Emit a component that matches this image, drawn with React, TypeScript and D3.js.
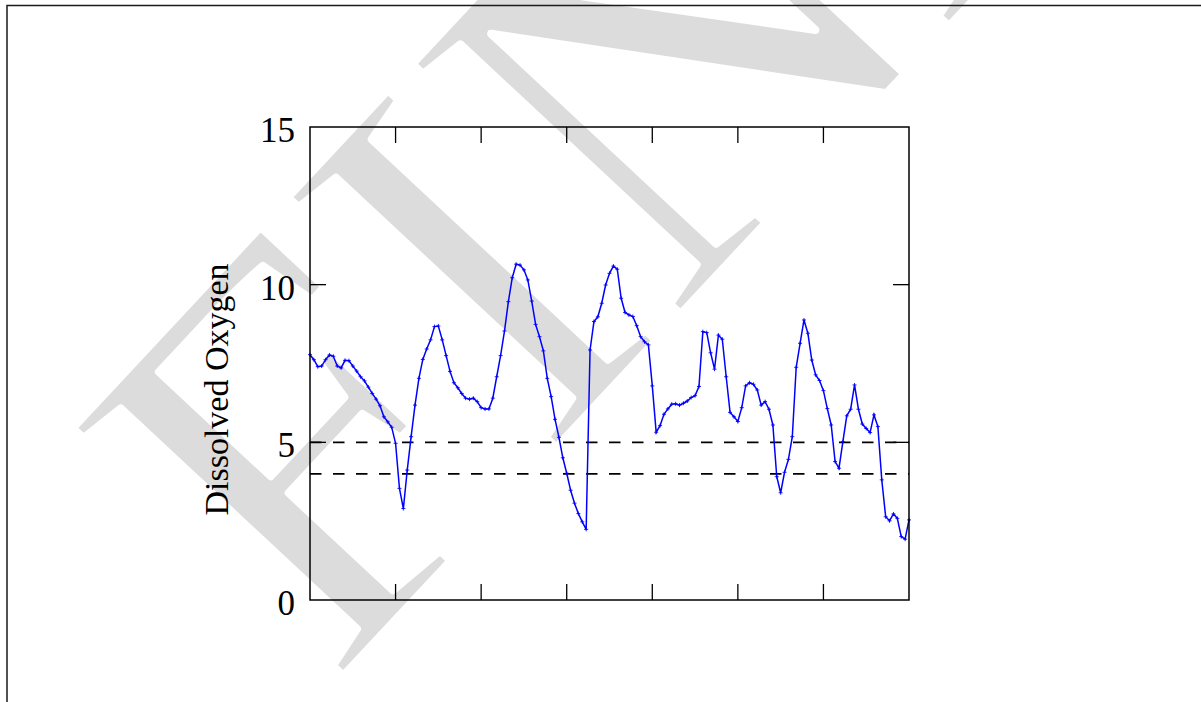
import React from "react";
import * as d3 from "d3";

// Dissolved oxygen samples (22 samples per day, 7 days)
const oxygen: number[] = [
  7.78, 7.62, 7.4, 7.42, 7.62, 7.77, 7.73, 7.42, 7.36, 7.6,
  7.59, 7.42, 7.26, 7.08, 6.95, 6.75, 6.55, 6.37, 6.16, 5.81,
  5.65, 5.48, 4.97, 3.54, 2.9, 4.12, 5.18, 6.18, 7.03, 7.63,
  7.96, 8.25, 8.67, 8.69, 8.25, 7.75, 7.25, 6.89, 6.73, 6.55,
  6.4, 6.37, 6.4, 6.29, 6.1, 6.06, 6.06, 6.4, 7.08, 7.75,
  8.53, 9.46, 10.22, 10.65, 10.62, 10.47, 10.15, 9.48, 8.74, 8.35,
  7.9, 7.03, 6.45, 5.73, 5.16, 4.51, 4.02, 3.48, 3.07, 2.74,
  2.48, 2.24, 7.93, 8.83, 8.98, 9.41, 9.99, 10.36, 10.59, 10.49,
  9.57, 9.12, 9.04, 8.99, 8.7, 8.35, 8.19, 8.09, 6.79, 5.32,
  5.53, 5.89, 6.06, 6.21, 6.22, 6.18, 6.24, 6.31, 6.42, 6.48,
  6.77, 8.51, 8.48, 7.84, 7.32, 8.4, 8.27, 7.08, 5.95, 5.81,
  5.66, 6.1, 6.79, 6.89, 6.84, 6.66, 6.18, 6.29, 6.05, 5.55,
  3.91, 3.4, 4.05, 4.46, 5.18, 7.38, 8.14, 8.88, 8.46, 7.61,
  7.14, 6.96, 6.64, 6.07, 5.55, 4.39, 4.18, 5.02, 5.84, 6.05,
  6.82, 6.05, 5.58, 5.44, 5.31, 5.87, 5.5, 3.81, 2.64, 2.51,
  2.73, 2.59, 2.01, 1.93, 2.54,
];
const samplesPerDay = 22;
const days = 7;
const dayTicks: number[] = [1, 2, 3, 4, 5, 6];
const yTicks: number[] = [0, 5, 10, 15];
const innerYTicks: number[] = [5, 10];
const thresholds: number[] = [5, 4];
const yLabel = "Dissolved Oxygen";
const watermark = "FINAL";

export default function App() {
  const W = 1201;
  const H = 702;
  const left = 310, right = 909, top = 127, bottom = 600;
  const x = d3.scaleLinear().domain([0, days * samplesPerDay]).range([left, right]);
  const y = d3.scaleLinear().domain([0, 15]).range([bottom, top]);
  const line = d3
    .line<number>()
    .x((_, i) => x(i))
    .y((d) => y(d));
  const tickLen = 16;
  const blue = "#0000ff";
  const markers = oxygen
    .map((d, i) => {
      const cx = x(i), cy = y(d);
      return `M${cx - 2},${cy}H${cx + 2}M${cx},${cy - 2}V${cy + 2}`;
    })
    .join("");
  return (
    <svg
      width={W}
      height={H}
      style={{ position: "absolute", left: 0, top: 0, background: "#fff" }}
      fontFamily="'Liberation Serif', 'Times New Roman', serif"
    >
      <rect x={0} y={0} width={W} height={H} fill="#fff" />
      {/* watermark */}
      <text
        transform="translate(330,690) rotate(-47)"
        fontSize={560}
        fill="#dcdcdc"
        stroke="#fff"
        strokeWidth={8}
        strokeLinejoin="round"
        fontFamily="'Liberation Serif', serif"
      >
        {watermark}
      </text>
      {/* outer frame */}
      <path d={`M7,${H}V5.5H${W}`} fill="none" stroke="#1a1a1a" strokeWidth={1.5} />
      {/* thresholds */}
      {thresholds.map((t) => (
        <line
          key={t}
          x1={left}
          x2={right}
          y1={y(t)}
          y2={y(t)}
          stroke="#000"
          strokeWidth={1.6}
          strokeDasharray="11.5,11.5"
        />
      ))}
      {/* data */}
      <path d={line(oxygen) ?? ""} fill="none" stroke={blue} strokeWidth={1.5} />
      <path d={markers} fill="none" stroke={blue} strokeWidth={0.9} />
      {/* axes box */}
      <rect x={left} y={top} width={right - left} height={bottom - top} fill="none" stroke="#000" strokeWidth={1.5} />
      {dayTicks.map((d) => (
        <g key={d}>
          <line x1={x(d * samplesPerDay)} x2={x(d * samplesPerDay)} y1={bottom} y2={bottom - tickLen} stroke="#000" strokeWidth={1.3} />
          <line x1={x(d * samplesPerDay)} x2={x(d * samplesPerDay)} y1={top} y2={top + tickLen} stroke="#000" strokeWidth={1.3} />
        </g>
      ))}
      {innerYTicks.map((t) => (
        <g key={t}>
          <line x1={left} x2={left + tickLen} y1={y(t)} y2={y(t)} stroke="#000" strokeWidth={1.3} />
          <line x1={right} x2={right - tickLen} y1={y(t)} y2={y(t)} stroke="#000" strokeWidth={1.3} />
        </g>
      ))}
      {yTicks.map((t) => (
        <text key={t} x={295} y={y(t) + 15} textAnchor="end" fontSize={35} fill="#000">
          {t}
        </text>
      ))}
      <text transform={`translate(228,${(top + bottom) / 2 + 26}) rotate(-90)`} textAnchor="middle" fontSize={34} fill="#000">
        {yLabel}
      </text>
    </svg>
  );
}
